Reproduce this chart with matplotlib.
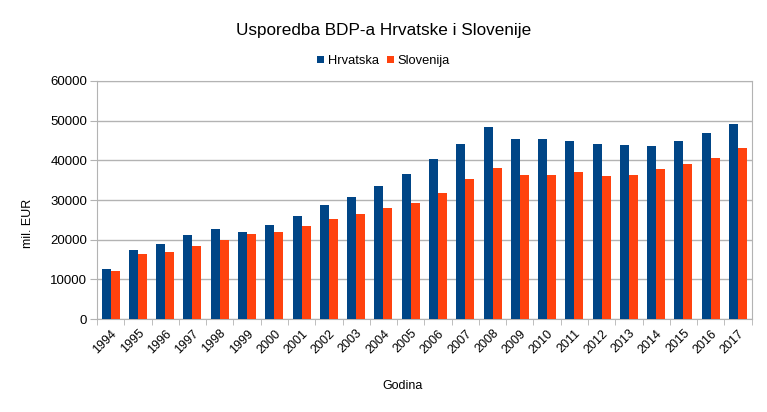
import numpy as np
import matplotlib.pyplot as plt
from matplotlib.ticker import FixedLocator

plt.rcParams['font.family'] = ['Liberation Sans', 'DejaVu Sans']

godine = [str(g) for g in range(1994, 2018)]
hrvatska = [12530, 17410, 19010, 21190, 22710, 22030, 23630, 26070, 28680, 30780,
            33560, 36590, 40290, 44070, 48280, 45330, 45330, 45000, 44150, 43900,
            43570, 44830, 46850, 49200]
slovenija = [12200, 16400, 16990, 18420, 19930, 21360, 21950, 23380, 25150, 26490,
             27920, 29350, 31710, 35320, 38100, 36250, 36330, 37010, 36160, 36330,
             37760, 39020, 40540, 43150]

fig = plt.figure(figsize=(7.67, 4.12), dpi=100)
ax = fig.add_axes([0.1265, 0.2257, 0.8535, 0.5777])

x = np.arange(len(godine))
w = 0.33
ax.bar(x - w / 2, hrvatska, w, color='#004586', label='Hrvatska', zorder=3)
ax.bar(x + w / 2, slovenija, w, color='#ff420e', label='Slovenija', zorder=3)

ax.set_xlim(-0.5, len(godine) - 0.5)
ax.set_ylim(0, 60000)
ax.set_yticks(range(0, 60001, 10000))
ax.yaxis.grid(True, color='#b3b3b3', linewidth=1, zorder=0)

# oznake godina u sredini, crtice na granicama kategorija
ax.set_xticks(x)
ax.set_xticklabels(godine, rotation=45, ha='right', rotation_mode='anchor', fontsize=9)
ax.tick_params(axis='x', which='major', length=0, pad=6)
ax.xaxis.set_minor_locator(FixedLocator(np.arange(-0.5, len(godine), 1)))
ax.tick_params(axis='x', which='minor', length=4.5, color='#b3b3b3')
ax.tick_params(axis='y', length=5, color='#b3b3b3', labelsize=9.5, pad=2)

for s in ax.spines.values():
    s.set_color('#b3b3b3')

ax.set_ylabel('mil. EUR', fontsize=9)
ax.yaxis.set_label_coords(-0.097, 0.403)
ax.set_xlabel('Godina', fontsize=9)
ax.xaxis.set_label_coords(0.467, -0.256)
fig.text(0.5, 1 - 30 / 412, 'Usporedba BDP-a Hrvatske i Slovenije', ha='center', va='center', fontsize=12.3)
fig.legend(loc='center', bbox_to_anchor=(0.5, 1 - 61 / 412), ncol=2, frameon=False,
           fontsize=9.3, handlelength=0.55, handleheight=0.55, handletextpad=0.3, columnspacing=0.6)

plt.savefig('out.png', dpi=100)
